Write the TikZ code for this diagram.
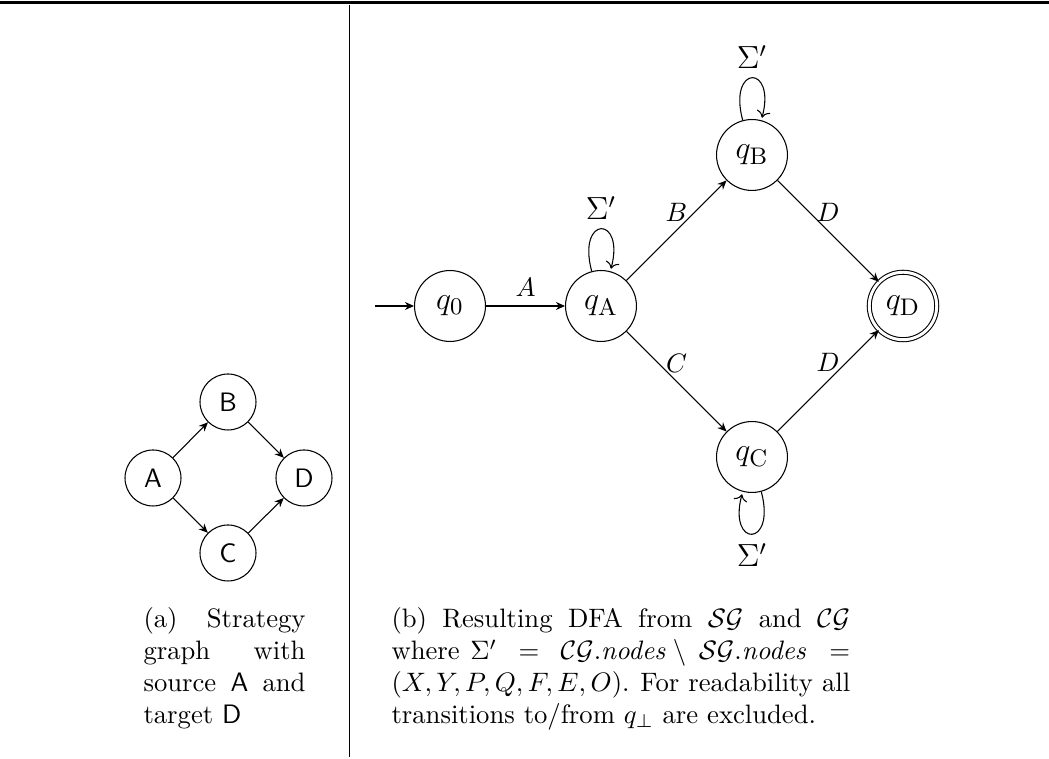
\documentclass[tikz,border=0pt]{standalone}
\usetikzlibrary{arrows.meta}

% a caption line set to a fixed width; \wsp is a word space that takes
% a share (its optional weight) of the spare room on the line
\newcommand\capline[2]{\leavevmode\hbox to #1{#2}}
\newcommand\wsp[1][1]{\hspace{0.3em plus #1fil}}

\begin{document}
\begin{tikzpicture}[x=0.375pt, y=0.375pt,
  dstate/.style={circle, draw, minimum size=26.6pt, inner sep=0pt,
                 font=\fontsize{13}{15}\selectfont},
  accept/.style={double, double distance=1.1pt, minimum size=25.3pt},
  gnode/.style={circle, draw, minimum size=21pt, inner sep=0pt, font=\sffamily},
  edge/.style={-{Stealth[length=3.4pt,width=3pt]}},
  lbl/.style={above, font=\normalsize},
  sigma/.style={font=\large},
  caption/.style={anchor=base west, inner sep=0pt, align=left}
]
\useasboundingbox (0,0) rectangle (1049,759);

% rules framing the two panels
\coordinate (ruleL) at (0,756.5);
\coordinate (ruleR) at (1049,756.5);
\draw[line width=0.8pt] (ruleL) -- (ruleR);
\coordinate (sepT) at (349.5,754);
\coordinate (sepB) at (349.5,2);
\draw (sepT) -- (sepB);

% (a) strategy graph
\node[gnode] (A) at (153,281) {A};
\node[gnode] (B) at (228,357) {B};
\node[gnode] (C) at (228,206) {C};
\node[gnode] (D) at (304,281) {D};
\draw[edge] (A) -- (B);
\draw[edge] (B) -- (D);
\draw[edge] (A) -- (C);
\draw[edge] (C) -- (D);

\node[caption, text width=60.75pt] (capa) at (143,131)
  {\capline{60.75pt}{(a)\wsp Strategy}\\
   \capline{60.75pt}{graph\wsp with}\\
   \capline{60.75pt}{source\wsp\textsf{A}\wsp and}\\
   target \textsf{D}};

% (b) resulting DFA
\node[dstate] (q0) at (450,453) {$q_0$};
\node[dstate] (qA) at (601,453) {$q_{\mathrm{A}}$};
\node[dstate] (qB) at (752,604) {$q_{\mathrm{B}}$};
\node[dstate] (qC) at (752,302) {$q_{\mathrm{C}}$};
\node[dstate, accept] (qD) at (903,453) {$q_{\mathrm{D}}$};

\coordinate (init) at (375,453);
\draw[edge] (init) -- (q0);
\draw[edge] (q0) -- node[lbl] {$A$} (qA);
\draw[edge] (qA) -- node[lbl] {$B$} (qB);
\draw[edge] (qA) -- node[lbl] {$C$} (qC);
\draw[edge] (qB) -- node[lbl] {$D$} (qD);
\draw[edge] (qC) -- node[lbl] {$D$} (qD);

\path (qA) edge[loop above] node[sigma] {$\Sigma'$} ();
\path (qB) edge[loop above] node[sigma] {$\Sigma'$} ();
\path (qC) edge[loop below] node[sigma] {$\Sigma'$} ();

\node[caption, text width=172pt] (capb) at (391,131)
  {\capline{172pt}{(b)\wsp Resulting\wsp DFA\wsp from\wsp $\mathcal{SG}$\wsp and\wsp $\mathcal{CG}$}\\
   \capline{172pt}{where\wsp[0.2]$\Sigma'$\wsp$=$\wsp$\mathcal{CG}.\mathit{nodes}$\hspace{0.2em}$\setminus$\wsp[0.35]$\mathcal{SG}.\mathit{nodes}$\wsp$=$}\\
   \capline{172pt}{$(X, Y, P, Q, F, E, O)$.\wsp[2.5]For\wsp readability\wsp all}\\
   transitions to/from $q_\perp$ are excluded.};
\end{tikzpicture}
\end{document}
